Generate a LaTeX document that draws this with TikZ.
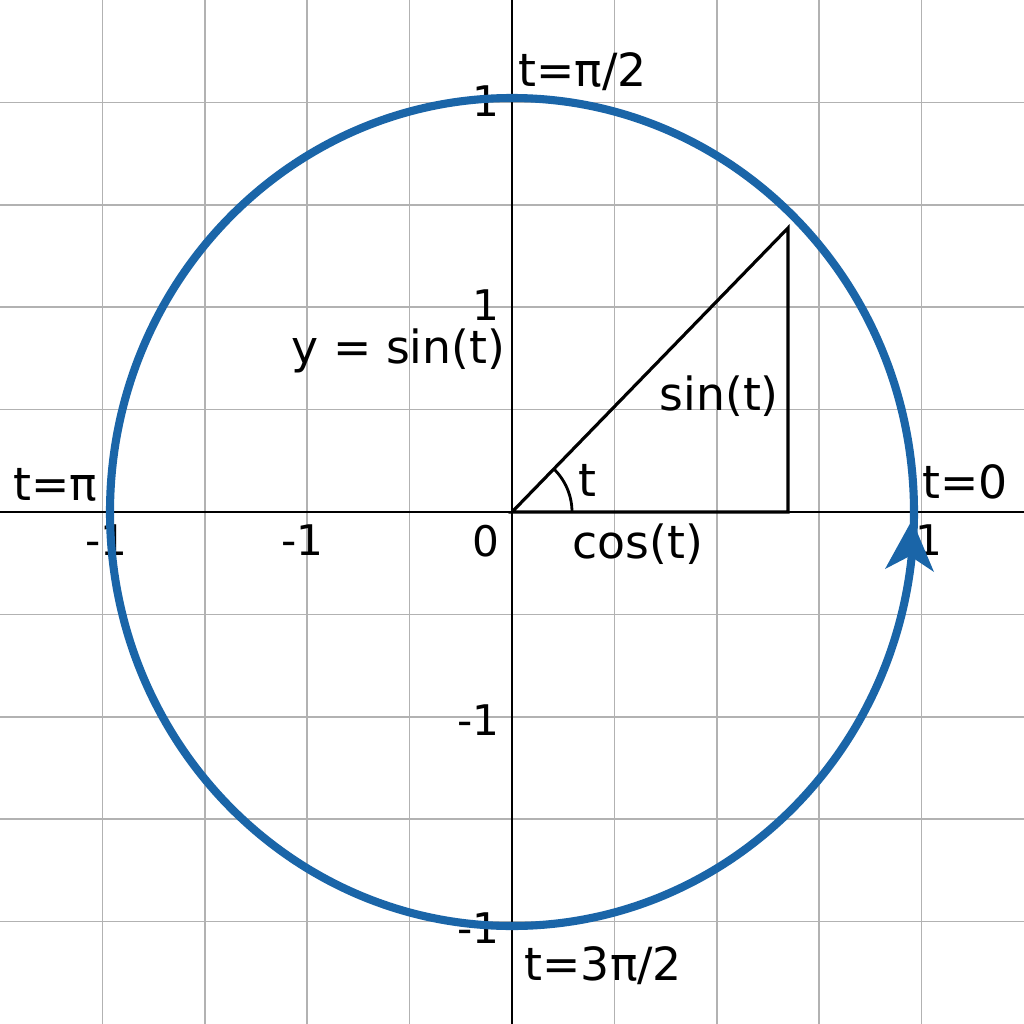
\documentclass[tikz,border=0pt]{standalone}
\usepackage{fontspec}
\setmainfont{DejaVu Sans}
\begin{document}
\begin{tikzpicture}[x=0.01cm,y=-0.01cm,
  lbl/.style={inner sep=0pt,font=\fontsize{13}{15}\selectfont},
  tick/.style={inner sep=0pt,font=\fontsize{12}{14}\selectfont},
  gridline/.style={draw=black!30,line width=0.45pt},
  axisline/.style={draw=black,line width=0.7pt},
  triline/.style={draw=black,line width=0.9pt},
  circ/.style={draw=circblue,line width=2.3pt}]
\definecolor{circblue}{HTML}{1A65A8}
\fill[white] (0,0) rectangle (1024,1024);
\useasboundingbox (0,0) rectangle (1024,1024);
% grid
\foreach \i in {1,...,9}{
  \draw[gridline] (\i*102.4,0) -- (\i*102.4,1024);
  \draw[gridline] (0,\i*102.4) -- (1024,\i*102.4);
}
% axes
\coordinate (O) at (512,512);
\coordinate (xl) at (0,512);
\coordinate (xr) at (1024,512);
\coordinate (yt) at (512,0);
\coordinate (yb) at (512,1024);
\draw[axisline] (xl) -- (xr);
\draw[axisline] (yt) -- (yb);
% labels
\node[lbl,anchor=base west] (tpi2) at (518,87) {t=π/2};
\node[tick,anchor=base east] (y1a) at (500,116) {1};
\node[tick,anchor=base east] (y1b) at (500,320) {1};
\node[lbl,anchor=base west] (ysin) at (291,363) {y = sin(t)};
\node[lbl,anchor=base west] (sinl) at (659,410) {sin(t)};
\node[lbl,anchor=base west] (tang) at (578,496) {t};
\node[lbl,anchor=base west] (cosl) at (572,558) {cos(t)};
\node[tick,anchor=base east] (zero) at (500,556) {0};
\node[lbl,anchor=base west] (tpi) at (13,500) {t=π};
\node[tick,anchor=base west] (xm1a) at (85,555) {-1};
\node[tick,anchor=base west] (xm1b) at (281,555) {-1};
\node[lbl,anchor=base west] (t0) at (922,498) {t=0};
\node[tick,anchor=base west] (x1) at (915,555) {1};
\node[tick,anchor=base east] (ym1a) at (500,735) {-1};
\node[tick,anchor=base east] (ym1b) at (500,943) {-1};
\node[lbl,anchor=base west] (t3pi2) at (524,980) {t=3π/2};
% triangle
\coordinate (P) at (788,228);
\coordinate (Q) at (788,512);
\draw[triline] (O) -- (P) -- (Q) -- cycle;
\draw[line width=0.8pt] (572,512) arc[start angle=0,end angle=-45.8,radius=60];
% circle
\draw[circ] (O) ellipse[x radius=402,y radius=414];
% arrowhead
\fill[circblue] (912,520) -- (934,572) -- (910,556) -- (885,569) -- cycle;
\end{tikzpicture}
\end{document}
